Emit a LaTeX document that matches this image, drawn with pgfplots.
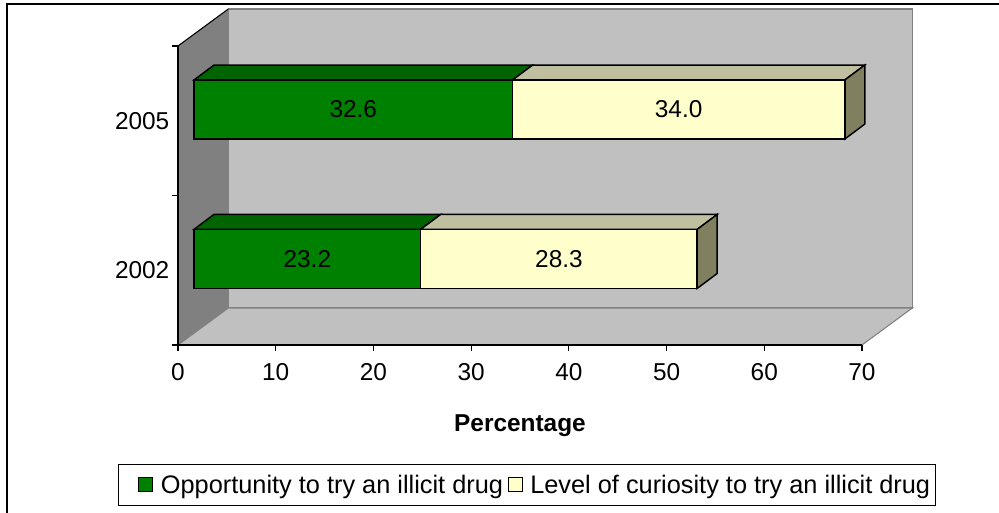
\documentclass[border=0pt]{standalone}
\usepackage{fontspec}
\setmainfont{Liberation Sans}
\usepackage{pgfplots}
\usepackage{pgfplotstable}
\pgfplotsset{compat=1.18}

\definecolor{gfront}{RGB}{0,128,0}
\definecolor{gtop}{RGB}{0,100,0}
\definecolor{yfront}{RGB}{255,255,204}
\definecolor{ytop}{RGB}{192,192,160}
\definecolor{yside}{RGB}{128,128,96}
\definecolor{wallc}{RGB}{192,192,192}
\definecolor{lwallc}{RGB}{128,128,128}
\definecolor{edgec}{RGB}{128,128,128}

\newcommand{\chartfont}{\fontsize{18.3}{21}\selectfont}
\newcommand{\legfont}{\fontsize{19}{21}\selectfont}

% pos = bar centre (category 2002 = 1, 2005 = 2, drawn at mid depth)
% base = depth offset of the bars along x
\pgfplotstableread{
pos   base  opp  cur
1.076 1.637 23.2 28.3
2.075 1.637 32.6 34.0
}\bardata

\pgfplotsset{
  frame3d/.style={
    at={(133.5pt,126pt)}, anchor=south west,
    scale only axis, width=513pt, height=224.25pt,
    xmin=0, xmax=70, ymin=0.5, ymax=2.5, clip=false,
  }
}

\begin{document}
\begin{tikzpicture}
\useasboundingbox (0pt,0pt) rectangle (749.25pt,384.75pt);
\draw[line width=1.5pt] (5.25pt,-5pt) -- (5.25pt,381.4pt) -- (760pt,381.4pt);
% ---------- background: walls, floor and the depth faces of the bars
\begin{axis}[frame3d, hide axis]
\filldraw[fill=wallc, draw=edgec, line width=0.8pt] (axis cs:5.15,0.7475) rectangle (axis cs:75.15,2.7475);
\fill[lwallc] (axis cs:0,0.5) -- (axis cs:5.15,0.7475) -- (axis cs:5.15,2.7475) -- (axis cs:0,2.5) -- cycle;
\filldraw[fill=wallc, draw=edgec, line width=0.8pt] (axis cs:0,0.5) -- (axis cs:70,0.5) -- (axis cs:75.15,0.7475) -- (axis cs:5.15,0.7475) -- cycle;
\draw[black, line width=0.8pt] (axis cs:0,2.5) -- (axis cs:5.15,2.7475);
% 2005: green 32.6, yellow 34.0 (start 1.637, depth 2.047 x 0.1)
\filldraw[fill=gtop, draw=black, line width=1.1pt] (axis cs:1.637,2.2725) -- (axis cs:34.237,2.2725) -- (axis cs:36.284,2.3725) -- (axis cs:3.684,2.3725) -- cycle;
\filldraw[fill=ytop, draw=black, line width=1.1pt] (axis cs:34.237,2.2725) -- (axis cs:68.237,2.2725) -- (axis cs:70.284,2.3725) -- (axis cs:36.284,2.3725) -- cycle;
\filldraw[fill=yside, draw=black, line width=1.1pt] (axis cs:68.237,1.8775) -- (axis cs:68.237,2.2725) -- (axis cs:70.284,2.3725) -- (axis cs:70.284,1.9775) -- cycle;
% 2002: green 23.2, yellow 28.3
\filldraw[fill=gtop, draw=black, line width=1.1pt] (axis cs:1.637,1.2735) -- (axis cs:24.837,1.2735) -- (axis cs:26.884,1.3735) -- (axis cs:3.684,1.3735) -- cycle;
\filldraw[fill=ytop, draw=black, line width=1.1pt] (axis cs:24.837,1.2735) -- (axis cs:53.137,1.2735) -- (axis cs:55.184,1.3735) -- (axis cs:26.884,1.3735) -- cycle;
\filldraw[fill=yside, draw=black, line width=1.1pt] (axis cs:53.137,0.8785) -- (axis cs:53.137,1.2735) -- (axis cs:55.184,1.3735) -- (axis cs:55.184,0.9785) -- cycle;
\end{axis}
% ---------- foreground: axes, front faces of the bars, labels, legend
\begin{axis}[frame3d, axis on top,
  xbar stacked, bar width=0.395,
  axis x line*=bottom, axis y line*=left,
  axis line style={line width=1pt, black},
  tick align=outside, major tick length=4.5pt,
  xtick={0,10,...,70},
  xtick style={black, line width=0.8pt},
  xticklabel style={yshift=-5.5pt},
  ytick={1,2}, yticklabels={2002,2005},
  ytick style={draw=none},
  yticklabel style={xshift=1.5pt},
  extra y ticks={0.5,1.5,2.5}, extra y tick labels={},
  extra y tick style={ytick style={draw=black, line width=0.8pt}},
  tick label style={font=\chartfont},
  /pgf/number format/assume math mode=true,
  xlabel={Percentage},
  xlabel style={at={(axis description cs:0.5,-0.27)}, anchor=center, font=\bfseries\chartfont},
  legend style={at={(0.5102,-0.4682)}, anchor=center, draw=black, line width=0.75pt,
    legend columns=2, font=\legfont, inner xsep=2pt, inner ysep=6pt,
    /tikz/every even column/.append style={column sep=1.5pt}},
  legend cell align=left,
]
\addplot[draw=none, fill=none, forget plot] table[x=base, y=pos] {\bardata};
\addplot[fill=gfront, draw=black, line width=1.1pt,
  legend image code/.code={\path (-12.75pt,0pt); \draw[fill=gfront, draw=black, line width=0.75pt] (0pt,-5.25pt) rectangle (10.5pt,5.25pt); \path (14pt,0pt);},
  visualization depends on={\thisrow{opp} \as \rawv},
  nodes near coords={\pgfmathprintnumber[fixed,fixed zerofill,precision=1]{\rawv}},
  every node near coord/.style={anchor=center, font=\chartfont, text=black}]
  table[x=opp, y=pos] {\bardata};
\addlegendentry{Opportunity to try an illicit drug}
\addplot[fill=yfront, draw=black, line width=1.1pt,
  legend image code/.code={\draw[fill=yfront, draw=black, line width=0.75pt] (0pt,-5.25pt) rectangle (10.5pt,5.25pt); \path (14pt,0pt);},
  visualization depends on={\thisrow{cur} \as \rawv},
  nodes near coords={\pgfmathprintnumber[fixed,fixed zerofill,precision=1]{\rawv}},
  every node near coord/.style={anchor=center, font=\chartfont, text=black}]
  table[x=cur, y=pos] {\bardata};
\addlegendentry{Level of curiosity to try an illicit drug}
\end{axis}
\end{tikzpicture}
\end{document}
